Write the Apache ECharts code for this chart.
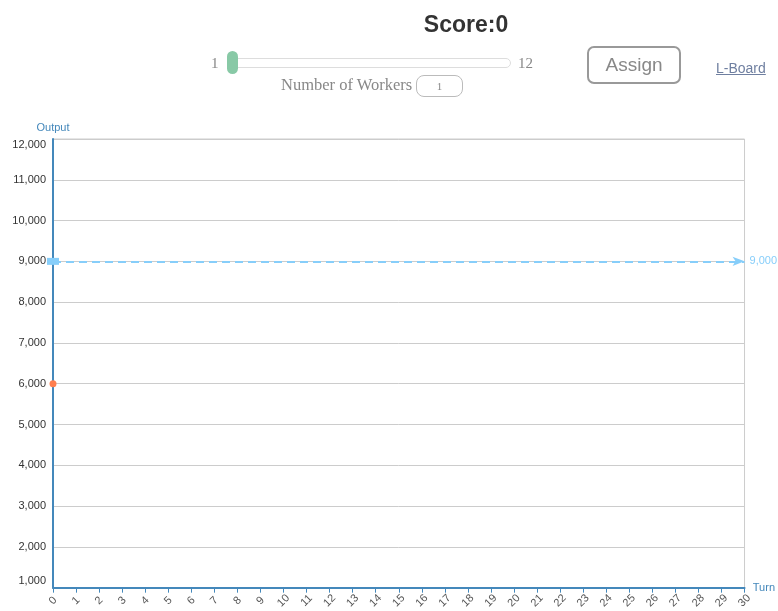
<!DOCTYPE html>
<html>
<head>
<meta charset="utf-8">
<script src="https://cdn.jsdelivr.net/npm/echarts@6/dist/echarts.min.js"></script>
<style>
  body { margin: 0; width: 778px; height: 611px; overflow: hidden; background: #fff; position: relative; }
  #chart { position: absolute; left: 0; top: 0; width: 778px; height: 611px; }
  .ctl { position: absolute; z-index: 2; }
  #score { left: 366px; top: 11px; width: 200px; text-align: center; font: bold 23px "Liberation Sans", Arial, sans-serif; color: #333; }
  .serif { font-family: "Liberation Serif", "DejaVu Serif", serif; color: #888; }
  #lo { left: 211px; top: 55px; font-size: 15px; }
  #hi { left: 518px; top: 55px; font-size: 15px; }
  #track { left: 230px; top: 58px; width: 279px; height: 8px; border: 1px solid #ddd; border-radius: 5px; background: #fff; }
  #thumb { left: 227px; top: 51px; width: 11px; height: 23px; border-radius: 6px; background: #88c9a6; }
  #workers { left: 281px; top: 75px; font-size: 16.5px; }
  #box { left: 416px; top: 75px; width: 45px; height: 20px; border: 1px solid #bbb; border-radius: 8px; text-align: center; font-size: 11px; line-height: 20px; }
  #assign { left: 587px; top: 46px; width: 90px; height: 34px; border: 2px solid #999; border-radius: 7px; text-align: center; font: 19px "Liberation Sans", Arial, sans-serif; color: #888; line-height: 33px; }
  #lboard { left: 716px; top: 60px; font: 14px "Liberation Sans", Arial, sans-serif; color: #6f7fa0; text-decoration: underline; }
</style>
</head>
<body>
<div id="score" class="ctl">Score:0</div>
<div id="lo" class="ctl serif">1</div>
<div id="track" class="ctl"></div>
<div id="thumb" class="ctl"></div>
<div id="hi" class="ctl serif">12</div>
<div id="workers" class="ctl serif">Number of Workers</div>
<div id="box" class="ctl serif">1</div>
<div id="assign" class="ctl">Assign</div>
<div id="lboard" class="ctl">L-Board</div>
<div id="chart"></div>
<script>
// data
var turns = [0];
var outputs = [6000];
var target = 9000;
var turnMax = 30;
var outputMin = 1000;
var outputMax = 12000;

var axisBlue = '#48b';

var chart = echarts.init(document.getElementById('chart'));

var points = [];
for (var i = 0; i < turns.length; i++) {
  points.push([turns[i], outputs[i]]);
}

function fmt(v) {
  return String(v).replace(/\B(?=(\d{3})+(?!\d))/g, ',');
}

var option = {
  animation: false,
  grid: {
    left: 53, right: 33, top: 139, bottom: 22,
    show: true, borderColor: '#ccc', borderWidth: 1
  },
  xAxis: {
    type: 'value',
    min: 0, max: turnMax, interval: 1,
    name: 'Turn',
    nameLocation: 'end',
    nameGap: 7,
    nameTextStyle: { color: axisBlue, fontSize: 11 },
    axisLine: { show: true, lineStyle: { color: axisBlue, width: 2 } },
    axisTick: { show: true, length: 5, lineStyle: { color: axisBlue } },
    axisLabel: { rotate: 45, align: 'center', verticalAlign: 'middle', color: '#555', fontSize: 11, margin: 13 },
    splitLine: { show: false }
  },
  yAxis: {
    type: 'value',
    min: outputMin, max: outputMax, interval: 1000,
    name: 'Output',
    nameLocation: 'end',
    nameGap: 6,
    nameTextStyle: { color: axisBlue, fontSize: 11 },
    axisLine: { show: true, lineStyle: { color: axisBlue, width: 2 } },
    axisTick: { show: false },
    axisLabel: {
      color: '#333', fontSize: 11, margin: 7,
      formatter: function (v) {
        if (v === outputMax) return '{top|' + fmt(v) + '}';
        if (v === outputMin) return '{bot|' + fmt(v) + '}';
        return fmt(v);
      },
      rich: {
        top: { fontSize: 11, color: '#333', padding: [12, 0, 0, 0] },
        bot: { fontSize: 11, color: '#333', padding: [0, 0, 14, 0] }
      }
    },
    splitLine: { show: true, lineStyle: { color: '#ccc' } }
  },
  series: [
    {
      name: 'Output',
      type: 'line',
      data: points,
      symbol: 'circle',
      symbolSize: 7,
      z: 5,
      itemStyle: { color: '#ff7f50' },
      lineStyle: { color: '#ff7f50', width: 2 },
      markLine: {
        silent: true,
        z: 4,
        symbol: ['rect', 'arrow'],
        symbolSize: [7, 12],
        lineStyle: { color: '#87cefa', type: [8, 5], width: 2, opacity: 1 },
        label: { color: '#87cefa', fontSize: 11, distance: 5, formatter: fmt(target) },
        data: [[{ coord: [0, target] }, { coord: [turnMax, target] }]]
      }
    }
  ]
};

chart.setOption(option);
</script>
</body>
</html>
